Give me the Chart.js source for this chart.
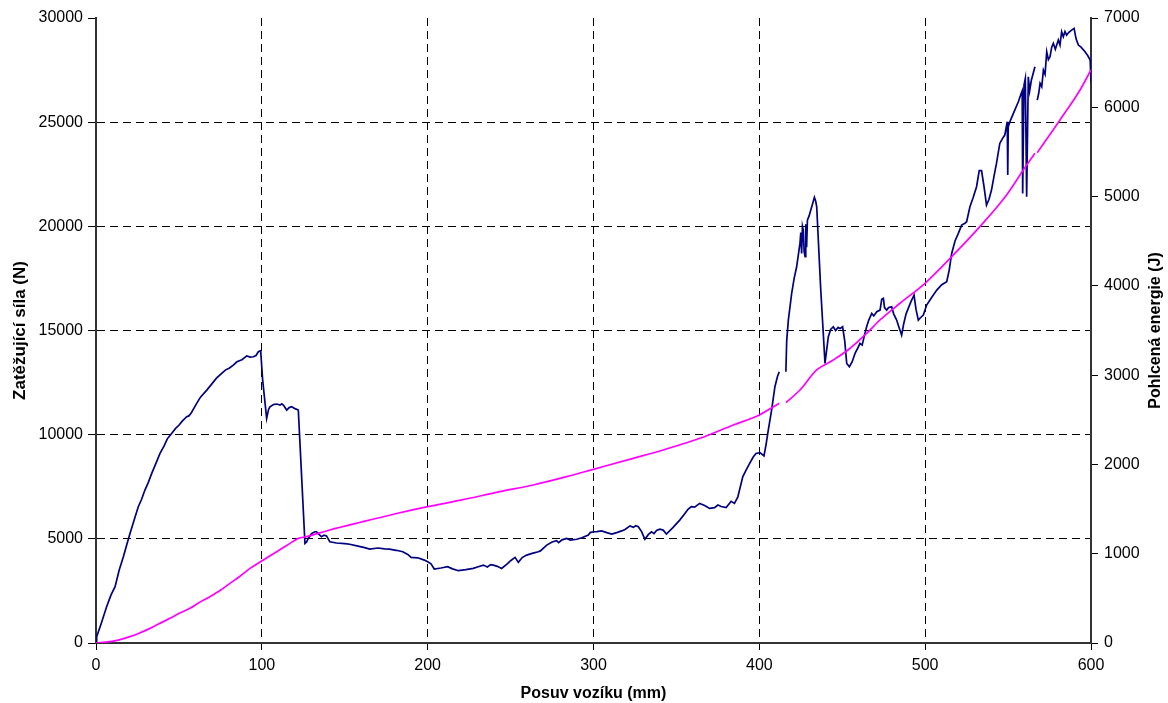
<!DOCTYPE html>
<html>
<head>
<meta charset="utf-8">
<script src="https://cdn.jsdelivr.net/npm/chart.js@4/dist/chart.umd.min.js"></script>
<style>
  html, body { margin: 0; padding: 0; background: #fff; }
  #wrap { width: 1168px; height: 703px; }
</style>
</head>
<body>
<div id="wrap"><canvas id="c" width="1168" height="703"></canvas></div>
<script>
// ---- data ----
const xTitle = 'Posuv vozíku (mm)';
const forceTitle = 'Zatěžující síla (N)';
const energyTitle = 'Pohlcená energie (J)';

const xTicks = [0, 100, 200, 300, 400, 500, 600];
const forceTicks = [0, 5000, 10000, 15000, 20000, 25000, 30000];
const energyTicks = [0, 1000, 2000, 3000, 4000, 5000, 6000, 7000];

const forceX = [0, 0.4, 3, 6.4, 9, 11.5, 14, 16.5, 18.5, 20.5, 23, 25.5, 27.5, 29.5, 31.5, 33.6, 36, 38.6, 41, 43, 45.6, 48, 50, 52, 54.7, 56, 57.5, 60.7, 63, 66.8, 70, 72.5, 75.8, 78, 80.5, 82.8, 85, 88, 90.9, 93, 94.9, 96.5, 97.9, 99.3,
  100.5, 102.9, 104, 104.9, 107, 109, 111, 112, 113, 115, 116.5, 118, 120, 122, 126, 127, 128, 130, 132, 133, 134, 136, 137.5, 139, 141, 145, 150, 153, 158, 162, 165, 170, 174, 177, 181, 185, 188, 190, 194, 198,
  200, 202, 204, 208, 212, 215, 218.5, 223, 227.5, 230, 233.6, 236, 238, 239.6, 242, 244.6, 248, 250, 252.7, 254.7, 257, 259.7, 263, 266.7, 268, 271.8, 275, 277.8, 279, 281, 283.8, 286, 289.9, 293, 296.9, 298,
  299.9, 302, 304.9, 308, 311, 314, 317, 319, 322, 324, 325.5, 327, 329, 331, 333, 335, 336.5, 338, 340, 342, 344, 348, 352, 355, 357, 359, 361, 364, 367, 370, 373, 375, 377, 380, 383, 385, 387, 390, 392, 394, 396.4, 398,
  400.4, 402.8, 404, 405.4, 407.4, 409.4, 410.9, 412, 414, 416, 416.5, 417.5, 419.5, 421, 422.5, 424.5, 425, 425.5, 426, 426.5, 427, 427.6, 428, 428.5, 429, 430, 431.6, 433.2, 434, 434.6, 437, 439.6, 441.6, 443, 444.6,
  446, 447.5, 448.7, 450.2, 451.5, 452.7, 454.3, 456, 457.7, 459, 460.7, 462, 463.5, 464.7, 466, 467.8, 469, 470.8, 472.8, 473.8, 474.8, 475.5, 476.8, 478, 479.8, 481, 482.8, 484, 485.8, 487, 488.5, 489.8, 491.5, 493.3,
  494.5, 495.9, 497, 498.9, 500.9, 504, 507, 510, 513, 514.5, 516, 518, 520, 522, 524, 525, 527, 529, 531, 532.6, 534, 535.5, 537, 538.5, 540, 541.5, 543, 545, 546.5, 548, 549.5, 549.8, 550.1, 551.5, 553.2, 556.2, 558,
  558.5, 558.8, 559.6, 560.4, 561.2, 562.2, 563, 564, 566.2, 567, 567.6, 568.5, 569.3, 570.3, 571.3, 572.3, 573.3, 574.3, 575.3, 576.3, 577.3, 578.5, 580.3, 581.3, 582.3, 583.3, 584.3, 585.3, 586.5, 588.3, 589.8, 591,
  592.4, 594, 596.4, 598, 599.5, 600];
const forceN = [60, 300, 900, 1740, 2300, 2700, 3500, 4140, 4700, 5260, 5900, 6540, 6900, 7340, 7700, 8140, 8600, 9100, 9450, 9800, 10060, 10300, 10450, 10650, 10860, 10900, 11050, 11500, 11800, 12140, 12450, 12700, 12940, 13100, 13200, 13340, 13500, 13600, 13780, 13720, 13740, 13800, 13980, 14030,
  12620, 10780, 11200, 11340, 11450, 11470, 11420, 11480, 11420, 11180, 11300, 11340, 11250, 11180, 4780, 4850, 5020, 5250, 5340, 5340, 5250, 5100, 5180, 5140, 4860, 4800, 4770, 4740, 4650, 4580, 4510, 4560, 4520, 4510, 4450, 4380, 4250, 4110, 4090, 3980,
  3900, 3800, 3550, 3600, 3660, 3560, 3470, 3520, 3580, 3650, 3740, 3650, 3760, 3740, 3680, 3580, 3800, 3950, 4110, 3870, 4100, 4220, 4300, 4380, 4420, 4700, 4850, 4910, 4820, 4950, 5020, 4940, 4980, 5050, 5180, 5300,
  5340, 5350, 5380, 5300, 5230, 5300, 5380, 5450, 5620, 5550, 5630, 5580, 5350, 4980, 5200, 5340, 5250, 5400, 5460, 5420, 5230, 5550, 5900, 6200, 6420, 6550, 6520, 6700, 6600, 6460, 6500, 6620, 6550, 6500, 6800, 6700, 7000, 7980, 8300, 8600, 8940, 9100,
  9140, 8980, 9500, 10220, 11180, 12300, 12780, 13020, null, 13020, 14500, 15500, 16780, 17500, 18060, 19180, 19700, 18700, 20000, 19820, 18800, 18540, 20100, 19000, 20300, 20500, 20940, 21390, 21200, 20940, 17000, 13420, 14700, 15050, 15180,
  15000, 15150, 15100, 15180, 14500, 13420, 13260, 13500, 13900, 14100, 14380, 14300, 14800, 15180, 15500, 15820, 15700, 15900, 15980, 16500, 16540, 16100, 15980, 16100, 16140, 15800, 15500, 15200, 14780, 15300, 15800, 16060, 16400, 16700,
  16000, 15500, 15600, 15740, 16220, 16600, 16940, 17200, 17340, 17900, 18700, 19300, 19660, 20060, 20150, 20220, 20940, 21400, 21900, 22670, 22670, 21900, 21020, 21300, 21740, 22400, 23020, 23980, 24200, 24380, 25020, 22460, 24780, 25100, 25420, 25980, 26400,
  26500, 21580, 26780, 27100, 21420, 27180, 26500, 27000, 27660, null, 26060, 26400, 26860, 26700, 27500, 27300, 28380, 28000, 28140, 28600, 28780, 28500, 28940, 28700, 29340, 29100, 29350, 29180, 29300, 29420, 29500, 29000,
  28700, 28600, 28380, 28200, 27980, 26900];

const energyX = [0, 8.4, 14, 20.5, 26, 32.6, 38, 44.6, 50, 56.7, 62, 68.7, 75, 80.8, 87, 92.9, 99.9, 104, 109, 113, 117, 122, 127, 141, 160, 180, 200, 220, 243.6, 263.7, 283.8, 299.9, 324, 342, 364.2, 384.3, 400, 412,
  414, 416, 424.5, 434.6, 444.6, 454, 464.7, 472.8, 484.8, 499.9, 517, 533, 549.1, 559.2, 566.2, 567, 567.6, 581.3, 593.4, 600];
const energyJ = [0, 15, 35, 71, 110, 164, 215, 276, 330, 388, 450, 519, 590, 668, 750, 836, 918, 965, 1023, 1070, 1116, 1172, 1191, 1266, 1355, 1445, 1527, 1600, 1695, 1770, 1863, 1945, 2068, 2162, 2293, 2442, 2554, 2685,
  null, 2691, 2834, 3058, 3170, 3290, 3468, 3618, 3805, 4029, 4346, 4663, 5018, 5298, 5485, null, 5491, 5858, 6194, 6418];

// ---- chart ----
const FONT = '"Liberation Sans", Arial, sans-serif';
const toPts = (xs, ys) => xs.map((x, i) => ({ x: x, y: ys[i] }));

const whiteBg = {
  id: 'whiteBg',
  beforeDraw(chart) {
    const ctx = chart.ctx;
    ctx.save();
    ctx.fillStyle = '#ffffff';
    ctx.fillRect(0, 0, chart.width, chart.height);
    ctx.restore();
  }
};

// right-axis title reads bottom-to-top, like the reference
const rightTitle = {
  id: 'rightTitle',
  afterDraw(chart) {
    const s = chart.scales.y1;
    const ctx = chart.ctx;
    ctx.save();
    ctx.translate(s.right - 12, (s.top + s.bottom) / 2);
    ctx.rotate(-Math.PI / 2);
    ctx.textAlign = 'center';
    ctx.textBaseline = 'middle';
    ctx.fillStyle = '#000';
    ctx.font = 'bold 16px ' + FONT;
    ctx.fillText(energyTitle, 0, 0);
    ctx.restore();
  }
};

new Chart(document.getElementById('c'), {
  type: 'line',
  data: {
    datasets: [
      {
        label: forceTitle,
        data: toPts(forceX, forceN),
        yAxisID: 'y',
        borderColor: '#000080',
        borderWidth: 1.7,
        pointRadius: 0,
        tension: 0,
        spanGaps: false,
        order: 1
      },
      {
        label: energyTitle,
        data: toPts(energyX, energyJ),
        yAxisID: 'y1',
        borderColor: '#ff00ff',
        borderWidth: 1.7,
        pointRadius: 0,
        cubicInterpolationMode: 'monotone',
        spanGaps: false,
        order: 0
      }
    ]
  },
  options: {
    responsive: false,
    animation: false,
    layout: { padding: { top: 18, left: 0, right: 0, bottom: 0 } },
    plugins: { legend: { display: false }, tooltip: { enabled: false } },
    scales: {
      x: {
        type: 'linear',
        min: xTicks[0],
        max: xTicks[xTicks.length - 1],
        afterBuildTicks: (s) => { s.ticks = xTicks.map(v => ({ value: v })); },
        afterFit: (s) => { s.height = 60; },
        ticks: {
          color: '#000',
          font: { family: FONT, size: 16 },
          padding: 6,
          maxRotation: 0,
          callback: (v) => String(v)
        },
        grid: {
          color: '#000',
          lineWidth: 1,
          tickLength: 7,
          tickColor: '#000',
          tickWidth: 1
        },
        border: { display: true, color: '#333', width: 2, dash: [8, 5] },
        title: {
          display: true,
          text: xTitle,
          color: '#000',
          font: { family: FONT, size: 16, weight: 'bold' },
          padding: { top: 0, bottom: 0 }
        }
      },
      y: {
        type: 'linear',
        position: 'left',
        min: forceTicks[0],
        max: forceTicks[forceTicks.length - 1],
        afterBuildTicks: (s) => { s.ticks = forceTicks.map(v => ({ value: v })); },
        afterFit: (s) => { s.width = 96; },
        ticks: {
          color: '#000',
          font: { family: FONT, size: 16 },
          padding: 5,
          callback: (v) => String(v)
        },
        grid: {
          color: (c) => (c.tick && (c.tick.value === 30000 || c.tick.value === 0)) ? 'rgba(0,0,0,0)' : '#000',
          lineWidth: 1,
          tickLength: 8,
          tickColor: '#000',
          tickWidth: 1
        },
        border: { display: true, color: '#333', width: 2, dash: [8, 5] },
        title: {
          display: true,
          text: forceTitle,
          color: '#000',
          font: { family: FONT, size: 17, weight: 'bold' },
          padding: { top: 10, bottom: 0 }
        }
      },
      y1: {
        type: 'linear',
        position: 'right',
        min: energyTicks[0],
        max: energyTicks[energyTicks.length - 1],
        afterBuildTicks: (s) => { s.ticks = energyTicks.map(v => ({ value: v })); },
        afterFit: (s) => { s.width = 77; },
        ticks: {
          color: '#000',
          font: { family: FONT, size: 16 },
          padding: 6,
          callback: (v) => String(v)
        },
        grid: {
          drawOnChartArea: false,
          tickLength: 7,
          tickColor: '#000',
          tickWidth: 1
        },
        border: { display: true, color: '#333', width: 2 },
        title: { display: false }
      }
    }
  },
  plugins: [whiteBg, rightTitle]
});
</script>
</body>
</html>
